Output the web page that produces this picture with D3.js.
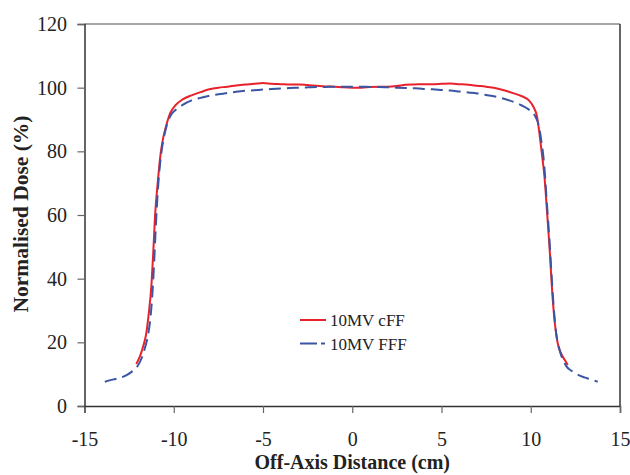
<!DOCTYPE html>
<html>
<head>
<meta charset="utf-8">
<script src="https://cdn.jsdelivr.net/npm/d3@7"></script>
<style>
  body { margin: 0; background: #fff; }
  text { font-family: "Liberation Serif", "Times New Roman", serif; }
</style>
</head>
<body>
<svg width="630" height="475"></svg>
<script>
// 10MV cFF profile (off-axis cm, normalised dose %)
const cffX = [-12.1, -11.9, -11.7, -11.55, -11.4, -11.25, -11.15, -11.05, -10.9, -10.73, -10.6, -10.45, -10.2, -9.9, -9.5, -9, -8.5, -8, -7.5, -7, -6.5, -6, -5.5, -5, -4.5, -4, -3.5, -3, -2.5, -2, -1.5, -1, -0.5, 0, 0.5, 1, 1.5, 2, 2.5, 3, 3.5, 4, 4.5, 5, 5.5, 6, 6.5, 7, 7.5, 8, 8.5, 9, 9.5, 9.9, 10.15, 10.35, 10.5, 10.65, 10.77, 10.9, 11.05, 11.2, 11.35, 11.5, 11.7, 11.9, 12.07];
const cffY = [13.2, 15.5, 19, 22.5, 29, 38, 48, 59.5, 70, 79.5, 84, 87.5, 92, 94.5, 96.3, 97.6, 98.6, 99.5, 100, 100.3, 100.7, 101, 101.2, 101.5, 101.2, 101.1, 101, 101, 100.8, 100.6, 100.4, 100.3, 100.1, 100, 100, 100.2, 100.3, 100.3, 100.5, 100.9, 101, 101.1, 101.1, 101.2, 101.3, 101.1, 100.9, 100.6, 100.3, 99.9, 99.2, 98.3, 97.3, 96, 94, 91, 85, 78, 72, 62, 50, 36, 26, 20, 16.5, 14.5, 12.9];

// 10MV FFF profile
const fffX = [-13.86, -13.5, -13.1, -12.64, -12.3, -12.1, -11.8, -11.6, -11.45, -11.3, -11.2, -11.1, -11.0, -10.9, -10.75, -10.6, -10.4, -10.2, -9.9, -9.5, -9, -8.5, -8, -7.5, -7, -6.5, -6, -5.5, -5, -4.5, -4, -3.5, -3, -2.5, -2, -1.5, -1, -0.5, 0, 0.5, 1, 1.5, 2, 2.5, 3, 3.5, 4, 4.5, 5, 5.5, 6, 6.5, 7, 7.5, 8, 8.5, 9, 9.5, 9.9, 10.2, 10.45, 10.6, 10.75, 10.9, 11.05, 11.2, 11.3, 11.42, 11.55, 11.7, 11.85, 11.98, 12.35, 13.0, 13.4, 13.75];
const fffY = [7.6, 8.2, 8.7, 9.7, 11, 12, 15, 18.5, 22, 28, 35, 45, 57, 67, 77, 83, 88, 91, 93, 94.6, 96, 96.8, 97.5, 97.9, 98.3, 98.7, 99, 99.2, 99.4, 99.6, 99.7, 99.9, 100, 100.1, 100.2, 100.2, 100.3, 100.3, 100.3, 100.3, 100.2, 100.2, 100.1, 100, 99.9, 99.8, 99.6, 99.5, 99.3, 99.1, 98.8, 98.5, 98.2, 97.7, 97.2, 96.5, 95.6, 94.4, 93.1, 91.5, 88, 83, 76, 64, 52, 38, 30, 23, 19, 16, 14, 12.6, 10.8, 9.0, 8.3, 7.6];

const xTicks = [-15, -10, -5, 0, 5, 10, 15];
const yTicks = [0, 20, 40, 60, 80, 100, 120];
const seriesNames = ["10MV cFF", "10MV FFF"];

const svg = d3.select("svg");
const margin = { top: 24, right: 10, bottom: 69, left: 84.5 };
const width = 630 - margin.left - margin.right;
const height = 475 - margin.top - margin.bottom;

const x = d3.scaleLinear().domain([-15, 15]).range([0, width]);
const y = d3.scaleLinear().domain([0, 120]).range([height, 0]);

const g = svg.append("g")
  .attr("transform", `translate(${margin.left},${margin.top})`);

// frame: top grey, right dark
g.append("line")
  .attr("x1", 0).attr("x2", width).attr("y1", 0).attr("y2", 0)
  .attr("stroke", "#888").attr("stroke-width", 1.5);
g.append("line")
  .attr("x1", width).attr("x2", width).attr("y1", 0).attr("y2", height)
  .attr("stroke", "#333").attr("stroke-width", 1.5);

const xAxis = g.append("g")
  .attr("transform", `translate(0,${height})`)
  .call(d3.axisBottom(x).tickValues(xTicks).tickSize(7).tickPadding(19));
const yAxis = g.append("g")
  .call(d3.axisLeft(y).tickValues(yTicks).tickSize(7).tickPadding(10.5));

[xAxis, yAxis].forEach(a => {
  a.attr("font-family", null);
  a.select(".domain").attr("stroke", "#333").attr("stroke-width", 1.5);
  a.selectAll(".tick line").attr("stroke", "#666").attr("stroke-width", 1.2);
  a.selectAll(".tick text")
    .style("font-family", "'Liberation Serif', serif")
    .style("font-size", "20px")
    .attr("fill", "#222");
});
xAxis.selectAll(".tick text").text(d => d < 0 ? "-" + Math.abs(d) : d);

const line = d3.line()
  .x(d => x(d[0]))
  .y(d => y(d[1]))
  .curve(d3.curveMonotoneX);

const cff = cffX.map((v, i) => [v, cffY[i]]);
const fff = fffX.map((v, i) => [v, fffY[i]]);

g.append("path")
  .datum(cff)
  .attr("fill", "none")
  .attr("stroke", "#e8212b")
  .attr("stroke-width", 2)
  .attr("d", line);

g.append("path")
  .datum(fff)
  .attr("fill", "none")
  .attr("stroke", "#3a55a4")
  .attr("stroke-width", 2)
  .attr("stroke-dasharray", "12,6")
  .attr("d", line);

// legend
const legend = svg.append("g");
const legendItems = [
  { name: seriesNames[0], color: "#e8212b", dash: null, y: 320 },
  { name: seriesNames[1], color: "#3a55a4", dash: "17,4,4,100", y: 343.5 }
];
legendItems.forEach(it => {
  legend.append("line")
    .attr("x1", 300).attr("x2", 326)
    .attr("y1", it.y).attr("y2", it.y)
    .attr("stroke", it.color)
    .attr("stroke-width", 2)
    .attr("stroke-dasharray", it.dash);
  legend.append("text")
    .attr("x", 330)
    .attr("y", it.y + 6)
    .style("font-size", "17px")
    .attr("fill", "#222")
    .text(it.name);
});

// axis titles
svg.append("text")
  .attr("x", margin.left + x(0))
  .attr("y", 469)
  .attr("text-anchor", "middle")
  .style("font-size", "20px")
  .style("font-weight", "bold")
  .attr("fill", "#222")
  .text("Off-Axis Distance (cm)");

svg.append("text")
  .attr("transform", `translate(27.5,214) rotate(-90)`)
  .attr("text-anchor", "middle")
  .style("font-size", "21.5px")
  .style("font-weight", "bold")
  .attr("fill", "#222")
  .text("Normalised Dose (%)");
</script>
</body>
</html>
